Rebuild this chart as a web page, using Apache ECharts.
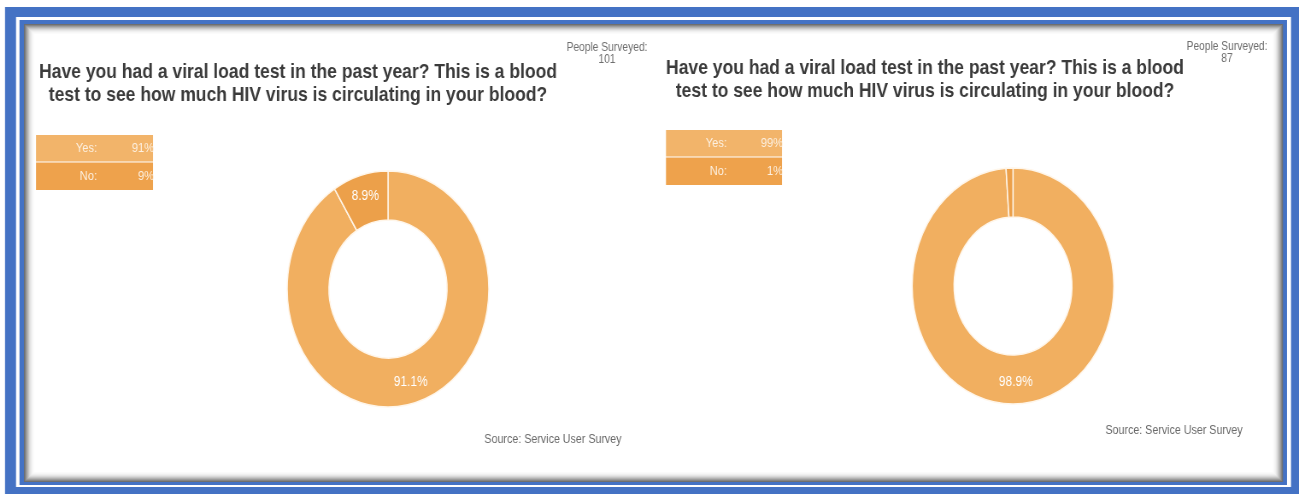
<!DOCTYPE html>
<html>
<head>
<meta charset="utf-8">
<script src="https://cdn.jsdelivr.net/npm/echarts@6/dist/echarts.min.js"></script>
<style>
html,body{margin:0;padding:0;overflow:hidden;background:#fff;}
#c{width:1520px;height:494px;transform:scaleX(0.854605);transform-origin:0 0;}
</style>
</head>
<body>
<div id="c"></div>
<script>
// ---- data ----
const categories = ['Yes', 'No'];
const tableLabels = ['Yes:', 'No:'];
const leftValues = [91.1, 8.9];
const rightValues = [98.9, 1.1];
const peopleSurveyed = [101, 87];
const titleLines = ['Have you had a viral load test in the past year? This is a blood',
                    'test to see how much HIV virus is circulating in your blood?'];
const peopleLabel = 'People Surveyed:';
const sourceText = 'Source: Service User Survey';

// ---- layout helpers ----
const W = 1520, H = 494;
const S = 1299 / W;
const X = x => x / S;   // convert reference px to unscaled px
const sliceColors = ['#F1AF60', '#ECA04A'];
const rowColors = ['#F2B46A', '#EEA24C'];
const blue = '#4472C4';

const chart = echarts.init(document.getElementById('c'), null, {renderer: 'canvas'});

const g = [];
// frame
g.push({type:'rect', shape:{x:X(5), y:7, width:W - X(5), height:H - 7}, style:{fill:blue}, z:0});
g.push({type:'rect', shape:{x:X(16), y:17, width:X(1291) - X(16), height:487 - 17}, style:{fill:'#ffffff'}, z:1});
g.push({type:'rect', shape:{x:X(19.5), y:20, width:X(1287) - X(19.5), height:485 - 20}, style:{fill:blue}, z:2});
// panel with inner shadow
const px0 = X(24), py0 = 24, px1 = X(1283), py1 = 482;
const shades = ['#6f6f6f','#858585','#9c9c9c','#b2b2b2','#c6c6c6','#d8d8d8','#e6e6e6','#f0f0f0','#f7f7f7','#fbfbfb'];
shades.forEach((c, i) => {
  g.push({type:'rect', shape:{x:px0 + X(i), y:py0 + i, width:(px1 - px0) - 2 * X(i), height:(py1 - py0) - 2 * i}, style:{fill:c}, z:3 + i});
});
const inset = shades.length;
g.push({type:'rect', shape:{x:px0 + X(inset), y:py0 + inset, width:(px1 - px0) - 2 * X(inset), height:(py1 - py0) - 2 * inset}, style:{fill:'#ffffff'}, z:20});

// per-chart text + table
const panels = [
  {titleX:298, titleY:84, peopleX:607, peopleY:48, tbl:{x:36, y:135, w:117, h:55}, srcX:553, srcY:440, values:leftValues, n:peopleSurveyed[0], cx:388, cy:289},
  {titleX:925, titleY:80, peopleX:1227, peopleY:47, tbl:{x:666, y:130, w:116, h:55}, srcX:1174, srcY:431, values:rightValues, n:peopleSurveyed[1], cx:1013, cy:286}
];

panels.forEach(p => {
  g.push({type:'text', z:30, style:{text:titleLines.join('\n'), x:X(p.titleX), y:p.titleY, textAlign:'center', textVerticalAlign:'middle',
    font:'bold 20.5px "Liberation Sans", Arial, sans-serif', lineHeight:23, fill:'#3b3b3b'}});
  g.push({type:'text', z:30, style:{text:peopleLabel + '\n' + p.n, x:X(p.peopleX), y:p.peopleY + 6, textAlign:'center', textVerticalAlign:'middle',
    font:'12px "Liberation Sans", Arial, sans-serif', lineHeight:12, fill:'#6e6e6e'}});
  g.push({type:'text', z:30, style:{text:sourceText, x:X(p.srcX), y:p.srcY, textAlign:'center', textVerticalAlign:'middle',
    font:'12.5px "Liberation Sans", Arial, sans-serif', fill:'#6a6a6a'}});
  const rh = p.tbl.h / categories.length;
  categories.forEach((c, i) => {
    g.push({type:'rect', z:30, shape:{x:X(p.tbl.x), y:p.tbl.y + i * rh, width:X(p.tbl.w), height:rh - (i < categories.length - 1 ? 1 : 0)}, style:{fill:rowColors[i]}});
    g.push({type:'text', z:31, style:{text:tableLabels[i], x:X(p.tbl.x + 61), y:p.tbl.y + i * rh + rh / 2, textAlign:'right', textVerticalAlign:'middle',
      font:'13px "Liberation Sans", Arial, sans-serif', fill:'#fdf1e2'}});
    g.push({type:'text', z:31, style:{text:Math.round(p.values[i]) + '%', x:X(p.tbl.x + p.tbl.w + 1), y:p.tbl.y + i * rh + rh / 2, textAlign:'right', textVerticalAlign:'middle',
      font:'13px "Liberation Sans", Arial, sans-serif', fill:'#fdf1e2'}});
  });
});

function pieSeries(p) {
  return {
    type:'pie', z:40, silent:true, animation:false,
    center:[X(p.cx), p.cy], radius:[69, 118], startAngle:90, clockwise:true,
    minShowLabelAngle:10, avoidLabelOverlap:false,
    data:categories.map((c, i) => ({name:c, value:p.values[i], itemStyle:{color:sliceColors[i]}})),
    itemStyle:{borderColor:'#fff6ea', borderWidth:1.5},
    label:{show:true, position:'inside', formatter:q => q.value.toFixed(1) + '%', color:'#ffffff',
      fontSize:14, fontFamily:'"Liberation Sans", Arial, sans-serif'},
    labelLine:{show:false},
    emphasis:{disabled:true}
  };
}

chart.setOption({
  animation:false,
  graphic:{elements:g},
  series:panels.map(pieSeries)
});
</script>
</body>
</html>
